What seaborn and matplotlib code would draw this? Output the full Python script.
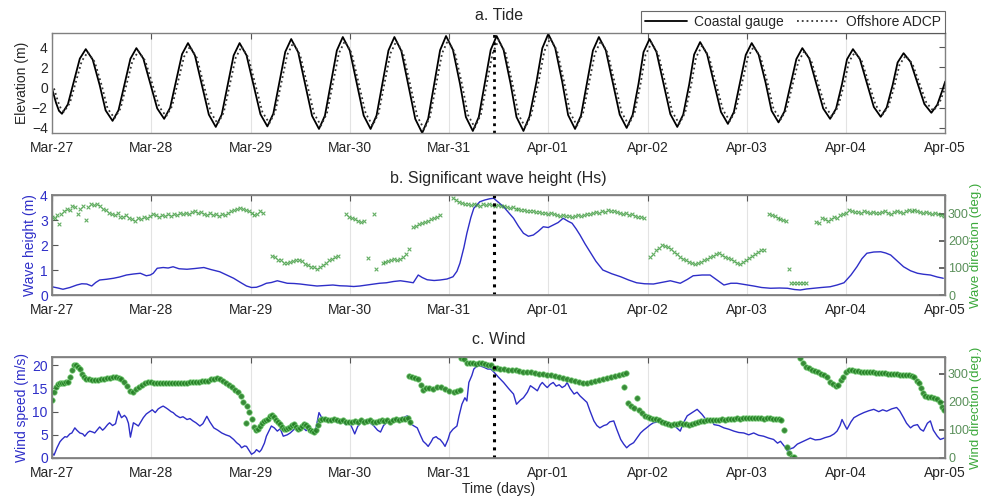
import numpy as np
import pandas as pd
import seaborn as sns
import matplotlib.pyplot as plt

# Tick labels (one per day) and the storm marker
day_labels = ['Mar-27', 'Mar-28', 'Mar-29', 'Mar-30', 'Mar-31',
              'Apr-01', 'Apr-02', 'Apr-03', 'Apr-04', 'Apr-05']
event_day = 4.45

# a. Tide (days since Mar-27 00:00, elevation m)
tide_days = [0.00, 0.04, 0.07,
             0.10, 0.16, 0.22, 0.28, 0.34, 0.41, 0.48, 0.54,
             0.61, 0.67, 0.73, 0.79, 0.85, 0.92, 0.99, 1.06,
             1.13, 1.19, 1.25, 1.31, 1.37, 1.44, 1.51, 1.58,
             1.65, 1.71, 1.77, 1.83, 1.89, 1.96, 2.03, 2.10,
             2.17, 2.23, 2.29, 2.35, 2.41, 2.48, 2.55, 2.62,
             2.69, 2.75, 2.81, 2.87, 2.93, 3.00, 3.07, 3.14,
             3.21, 3.27, 3.33, 3.39, 3.45, 3.52, 3.59, 3.66,
             3.73, 3.79, 3.85, 3.91, 3.97, 4.04, 4.11, 4.17,
             4.24, 4.30, 4.36, 4.42, 4.48, 4.55, 4.62, 4.68,
             4.75, 4.81, 4.88, 4.94, 5.00, 5.07, 5.14, 5.20,
             5.27, 5.33, 5.39, 5.45, 5.51, 5.58, 5.65, 5.72,
             5.79, 5.85, 5.91, 5.96, 6.02, 6.09, 6.16, 6.23,
             6.30, 6.36, 6.42, 6.47, 6.53, 6.60, 6.67, 6.74,
             6.81, 6.87, 6.93, 6.99, 7.05, 7.12, 7.19, 7.25,
             7.32, 7.38, 7.44, 7.50, 7.56, 7.63, 7.70, 7.77,
             7.84, 7.90, 7.96, 8.01, 8.07, 8.14, 8.21, 8.28,
             8.35, 8.41, 8.47, 8.52, 8.58, 8.65, 8.72, 8.79,
             8.86, 8.92, 8.97, 9.00]
gauge_elev = [-0.1, -1.5, -2.3,
              -2.6, -1.66, 0.6, 2.86, 3.8, 2.76, 0.25, -2.26,
              -3.3, -2.25, 0.3, 2.85, 3.9, 2.87, 0.4, -2.07,
              -3.1, -2.0, 0.65, 3.3, 4.4, 3.18, 0.25, -2.68,
              -3.9, -2.68, 0.25, 3.18, 4.4, 3.19, 0.28, -2.64,
              -3.85, -2.58, 0.48, 3.53, 4.8, 3.5, 0.35, -2.8,
              -4.1, -2.77, 0.45, 3.67, 5.0, 3.67, 0.45, -2.77,
              -4.1, -2.77, 0.45, 3.67, 5.0, 3.61, 0.25, -3.11,
              -4.5, -3.09, 0.3, 3.69, 5.1, 3.72, 0.4, -2.92,
              -4.3, -2.92, 0.4, 3.72, 5.1, 3.72, 0.4, -2.92,
              -4.3, -2.89, 0.5, 3.89, 5.3, 3.92, 0.6, -2.72,
              -4.1, -2.77, 0.45, 3.67, 5.0, 3.68, 0.5, -2.68,
              -4.0, -2.71, 0.4, 3.51, 4.8, 3.53, 0.45, -2.63,
              -3.9, -2.67, 0.3, 3.27, 4.5, 3.31, 0.45, -2.41,
              -3.6, -2.43, 0.4, 3.23, 4.4, 3.25, 0.48, -2.3,
              -3.45, -2.37, 0.23, 2.82, 3.9, 2.87, 0.4, -2.07,
              -3.1, -2.09, 0.35, 2.79, 3.8, 2.82, 0.45, -1.92,
              -2.9, -1.98, 0.25, 2.48, 3.4, 2.54, 0.45, -1.64,
              -2.5, -1.7, -0.3, 0.6]
adcp_lag = 0.02
adcp_elev = [-0.09, -1.38, -2.12,
             -2.39, -1.53, 0.55, 2.63, 3.5, 2.54, 0.23, -2.08,
             -3.04, -2.07, 0.28, 2.62, 3.59, 2.64, 0.37, -1.9,
             -2.85, -1.84, 0.6, 3.04, 4.05, 2.93, 0.23, -2.47,
             -3.59, -2.47, 0.23, 2.93, 4.05, 2.93, 0.26, -2.43,
             -3.54, -2.37, 0.44, 3.25, 4.42, 3.22, 0.32, -2.58,
             -3.77, -2.55, 0.41, 3.38, 4.6, 3.38, 0.41, -2.55,
             -3.77, -2.55, 0.41, 3.38, 4.6, 3.32, 0.23, -2.86,
             -4.14, -2.84, 0.28, 3.39, 4.69, 3.42, 0.37, -2.69,
             -3.96, -2.69, 0.37, 3.42, 4.69, 3.42, 0.37, -2.69,
             -3.96, -2.66, 0.46, 3.58, 4.88, 3.61, 0.55, -2.5,
             -3.77, -2.55, 0.41, 3.38, 4.6, 3.39, 0.46, -2.47,
             -3.68, -2.49, 0.37, 3.23, 4.42, 3.25, 0.41, -2.42,
             -3.59, -2.46, 0.28, 3.01, 4.14, 3.05, 0.41, -2.22,
             -3.31, -2.24, 0.37, 2.97, 4.05, 2.99, 0.44, -2.12,
             -3.17, -2.18, 0.21, 2.59, 3.59, 2.64, 0.37, -1.9,
             -2.85, -1.92, 0.32, 2.57, 3.5, 2.59, 0.41, -1.77,
             -2.67, -1.82, 0.23, 2.28, 3.13, 2.34, 0.41, -1.51,
             -2.3, -1.56, -0.28, 0.55]

# b. Significant wave height (m)
hs_days = [0.00, 0.06, 0.11, 0.18, 0.25, 0.30, 0.35, 0.40, 0.44, 0.48, 0.55, 0.62,
           0.68, 0.75, 0.82, 0.89, 0.95, 0.99, 1.02, 1.06, 1.12, 1.17, 1.22, 1.28,
           1.36, 1.44, 1.53, 1.60, 1.69, 1.76, 1.83, 1.90, 1.96, 2.01, 2.06, 2.11,
           2.16, 2.21, 2.27, 2.32, 2.37, 2.44, 2.50, 2.58, 2.67, 2.75, 2.83, 2.90,
           2.97, 3.04, 3.10, 3.17, 3.24, 3.30, 3.37, 3.44, 3.51, 3.58, 3.64, 3.69,
           3.73, 3.78, 3.85, 3.91, 3.98, 4.04, 4.08, 4.11, 4.15, 4.18, 4.22, 4.25,
           4.28, 4.31, 4.36, 4.41, 4.45, 4.50, 4.55, 4.60, 4.65, 4.70, 4.75, 4.80,
           4.85, 4.90, 4.95, 5.00, 5.05, 5.10, 5.15, 5.20, 5.24, 5.28, 5.32, 5.37,
           5.42, 5.48, 5.55, 5.64, 5.73, 5.81, 5.89, 5.97, 6.06, 6.14, 6.23, 6.33,
           6.40, 6.46, 6.55, 6.63, 6.70, 6.77, 6.84, 6.90, 6.98, 7.07, 7.15, 7.24,
           7.33, 7.41, 7.48, 7.54, 7.60, 7.67, 7.75, 7.84, 7.91, 7.98, 8.05, 8.11,
           8.16, 8.21, 8.28, 8.35, 8.40, 8.45, 8.52, 8.58, 8.65, 8.72, 8.78, 8.85,
           8.92, 8.98]
hs_m = [0.33, 0.28, 0.23, 0.30, 0.40, 0.45, 0.44, 0.36, 0.50, 0.60, 0.63, 0.67,
        0.72, 0.80, 0.84, 0.87, 0.77, 0.80, 0.87, 1.07, 1.10, 1.08, 1.13, 1.05,
        1.03, 1.06, 1.10, 1.02, 0.93, 0.80, 0.67, 0.50, 0.36, 0.30, 0.31, 0.38,
        0.47, 0.50, 0.57, 0.52, 0.47, 0.46, 0.44, 0.40, 0.36, 0.38, 0.40, 0.37,
        0.36, 0.34, 0.36, 0.40, 0.44, 0.47, 0.49, 0.54, 0.57, 0.53, 0.49, 0.80,
        0.70, 0.61, 0.58, 0.60, 0.64, 0.73, 0.95, 1.27, 1.90, 2.47, 3.10, 3.47,
        3.60, 3.73, 3.80, 3.85, 3.87, 3.70, 3.53, 3.30, 3.07, 2.75, 2.47, 2.35,
        2.40, 2.55, 2.73, 2.70, 2.80, 2.90, 3.07, 2.95, 2.87, 2.65, 2.40, 2.05,
        1.73, 1.35, 1.00, 0.85, 0.73, 0.60, 0.49, 0.45, 0.44, 0.50, 0.57, 0.47,
        0.62, 0.77, 0.80, 0.80, 0.60, 0.40, 0.47, 0.47, 0.42, 0.36, 0.30, 0.27,
        0.28, 0.27, 0.22, 0.20, 0.24, 0.27, 0.30, 0.33, 0.40, 0.49, 0.80, 1.13,
        1.45, 1.67, 1.72, 1.73, 1.68, 1.60, 1.35, 1.13, 0.97, 0.87, 0.83, 0.80,
        0.72, 0.67]

# b. Wave direction (deg.)
wave_dir_days = [0.00, 0.03, 0.05, 0.07, 0.09, 0.12, 0.15, 0.18, 0.20, 0.23, 0.26, 0.28,
                 0.31, 0.34, 0.36, 0.39, 0.42, 0.45, 0.48, 0.51, 0.54, 0.57, 0.60, 0.63,
                 0.66, 0.69, 0.72, 0.75, 0.78, 0.81, 0.84, 0.87, 0.90, 0.93, 0.96, 0.99,
                 1.02, 1.05, 1.08, 1.11, 1.14, 1.17, 1.20, 1.23, 1.26, 1.29, 1.32, 1.35,
                 1.38, 1.41, 1.44, 1.47, 1.50, 1.53, 1.56, 1.59, 1.62, 1.65, 1.68, 1.71,
                 1.74, 1.77, 1.80, 1.83, 1.86, 1.89, 1.92, 1.95, 1.98, 2.01, 2.04, 2.07,
                 2.10, 2.13,
                 2.22, 2.25, 2.28, 2.31, 2.34, 2.37, 2.40, 2.43, 2.46, 2.49, 2.52, 2.55,
                 2.58, 2.61, 2.64, 2.67, 2.70, 2.73, 2.76, 2.79, 2.82, 2.85, 2.88,
                 2.96, 2.99, 3.02, 3.05, 3.08, 3.11, 3.14, 3.18, 3.24, 3.26,
                 3.33, 3.36, 3.39, 3.42, 3.45, 3.48, 3.51, 3.54, 3.57, 3.60,
                 3.64, 3.67, 3.70, 3.73, 3.76, 3.79, 3.82, 3.85, 3.88, 3.91,
                 4.04, 4.07, 4.10, 4.13, 4.16, 4.19, 4.22, 4.25, 4.28, 4.31, 4.34, 4.37,
                 4.40, 4.43, 4.46, 4.49, 4.52, 4.55, 4.58, 4.61, 4.64, 4.67, 4.70, 4.73,
                 4.76, 4.79, 4.82, 4.85, 4.88, 4.91, 4.94, 4.97, 5.00, 5.03, 5.06, 5.09,
                 5.12, 5.15, 5.18, 5.21, 5.24, 5.27, 5.30, 5.33, 5.36, 5.39, 5.42, 5.45,
                 5.48, 5.51, 5.54, 5.57, 5.60, 5.63, 5.66, 5.69, 5.72, 5.75, 5.78, 5.81,
                 5.84, 5.87, 5.90, 5.93, 5.96,
                 6.03, 6.06, 6.09, 6.12, 6.15, 6.18, 6.21, 6.24, 6.27, 6.30, 6.33, 6.36,
                 6.39, 6.42, 6.45, 6.48, 6.51, 6.54, 6.57, 6.60, 6.63, 6.66, 6.69, 6.72,
                 6.75, 6.78, 6.81, 6.84, 6.87, 6.90, 6.93, 6.96, 6.99, 7.02, 7.05, 7.08,
                 7.11, 7.14, 7.17,
                 7.22, 7.25, 7.28, 7.31, 7.34, 7.37, 7.40, 7.43,
                 7.45, 7.48, 7.51, 7.54, 7.57, 7.60,
                 7.70, 7.73, 7.76, 7.79, 7.82, 7.85, 7.88, 7.91, 7.94, 7.97, 8.00, 8.03,
                 8.06, 8.09, 8.12, 8.15, 8.18, 8.21, 8.24, 8.27, 8.30, 8.33, 8.36, 8.39,
                 8.42, 8.45, 8.48, 8.51, 8.54, 8.57, 8.60, 8.63, 8.66, 8.69, 8.72, 8.75,
                 8.78, 8.81, 8.84, 8.87, 8.90, 8.93, 8.96, 8.99]
wave_dir_deg = [290, 285, 295, 262, 300, 310, 320, 315, 330, 325, 300, 318,
                330, 278, 325, 335, 332, 338, 330, 320, 315, 305, 300, 296,
                302, 290, 288, 296, 285, 280, 275, 285, 282, 290, 284, 292,
                300, 295, 290, 296, 292, 298, 294, 300, 296, 302, 298, 305,
                300, 306, 310, 304, 308, 300, 297, 302, 296, 298, 292, 300,
                296, 304, 310, 315, 318, 322, 320, 316, 312, 305, 295, 300,
                310, 305,
                145, 140, 130, 128, 120, 118, 122, 125, 130, 128, 125, 115,
                110, 105, 102, 98, 105, 112, 120, 128, 135, 140, 145,
                300, 290, 285, 280, 275, 270, 272, 137, 300, 96,
                118, 122, 125, 128, 132, 130, 135, 140, 150, 172,
                250, 256, 262, 266, 270, 275, 280, 284, 290, 296,
                360, 352, 345, 340, 338, 335, 332, 335, 333, 330, 335, 332,
                336, 334, 330, 332, 328, 330, 326, 322, 325, 320, 318, 315,
                316, 312, 310, 312, 308, 306, 305, 302, 300, 302, 298, 296,
                294, 296, 292, 294, 290, 292, 295, 293, 297, 300, 298, 303,
                306, 305, 310, 308, 313, 310, 312, 306, 305, 300, 302, 296,
                298, 292, 288, 290, 286,
                140, 150, 165, 175, 185, 182, 178, 170, 160, 150, 142, 135,
                128, 122, 118, 115, 120, 122, 128, 135, 140, 145, 150, 155,
                148, 142, 138, 135, 125, 118, 115, 122, 130, 138, 145, 152,
                158, 165, 168,
                300, 295, 292, 285, 282, 278, 275, 96,
                45, 45, 44, 46, 45, 45,
                270, 265, 285, 280, 272, 282, 290, 286, 295, 298, 305, 315,
                310, 306, 308, 305, 310, 306, 304, 308, 305, 302, 306, 310,
                304, 300, 306, 312, 308, 305, 310, 315, 312, 316, 310, 306,
                304, 308, 304, 300, 302, 298, 296, 292]

# c. Wind speed (m/s)
wind_days = [0.00, 0.02, 0.05, 0.08, 0.10, 0.13, 0.15, 0.18, 0.20, 0.23, 0.25, 0.28,
             0.31, 0.33, 0.36, 0.38, 0.41, 0.43, 0.46, 0.48, 0.51, 0.53, 0.56, 0.58,
             0.61, 0.64, 0.67, 0.70, 0.73, 0.75, 0.77, 0.79, 0.82, 0.85, 0.87, 0.90,
             0.92, 0.95, 0.99, 1.01, 1.04, 1.07, 1.10, 1.12, 1.15, 1.17, 1.20, 1.22,
             1.25, 1.29, 1.32, 1.36, 1.39, 1.42, 1.45, 1.49, 1.52, 1.56, 1.59, 1.63,
             1.67, 1.71, 1.75, 1.79, 1.83, 1.86, 1.89, 1.91, 1.94, 1.96, 1.99, 2.01,
             2.04, 2.06, 2.09, 2.11, 2.14, 2.16, 2.19, 2.21, 2.24, 2.27, 2.30, 2.33,
             2.37, 2.40, 2.44, 2.48, 2.52, 2.56, 2.60, 2.63, 2.66, 2.69, 2.72, 2.76,
             2.80, 2.84, 2.88, 2.92, 2.96, 3.00, 3.03, 3.05, 3.08, 3.12, 3.16, 3.20,
             3.24, 3.28, 3.31, 3.34, 3.37, 3.41, 3.44, 3.47, 3.51, 3.55, 3.58, 3.61,
             3.64, 3.68, 3.71, 3.74, 3.77, 3.79, 3.82, 3.84, 3.87, 3.89, 3.91, 3.94,
             3.96, 3.99, 4.01, 4.04, 4.08, 4.10, 4.13, 4.16, 4.18, 4.20, 4.23, 4.25,
             4.28, 4.31, 4.35, 4.39, 4.42, 4.45, 4.50, 4.55, 4.60, 4.65, 4.68, 4.72,
             4.75, 4.79, 4.82, 4.86, 4.89, 4.92, 4.94, 4.97, 4.99, 5.02, 5.05, 5.08,
             5.11, 5.14, 5.17, 5.19, 5.22, 5.26, 5.29, 5.32, 5.36, 5.39, 5.42, 5.46,
             5.49, 5.52, 5.56, 5.59, 5.62, 5.66, 5.69, 5.73, 5.76, 5.79, 5.82, 5.86,
             5.89, 5.93, 5.96, 5.99, 6.03, 6.06, 6.11, 6.16, 6.21, 6.26, 6.30, 6.33,
             6.36, 6.40, 6.45, 6.50, 6.55, 6.60, 6.64, 6.67, 6.72, 6.77, 6.82, 6.87,
             6.92, 6.97, 7.02, 7.07, 7.12, 7.17, 7.22, 7.27, 7.31, 7.34, 7.38, 7.41,
             7.44, 7.47, 7.51, 7.54, 7.59, 7.64, 7.69, 7.74, 7.79, 7.84, 7.88, 7.91,
             7.94, 7.96, 7.99, 8.01, 8.05, 8.08, 8.13, 8.18, 8.23, 8.28, 8.33, 8.37,
             8.41, 8.46, 8.51, 8.54, 8.58, 8.61, 8.65, 8.68, 8.72, 8.75, 8.78, 8.82,
             8.85, 8.88, 8.92, 8.95, 8.99]
wind_speed = [1.1, 0.6, 2.2, 3.5, 4.0, 4.6, 4.5, 5.2, 5.4, 6.5, 6.0, 5.4,
              5.2, 4.7, 5.5, 5.8, 5.6, 5.4, 6.2, 6.7, 6.0, 6.4, 7.2, 7.6,
              7.0, 7.4, 10.1, 8.7, 9.2, 8.7, 7.5, 4.5, 7.6, 7.2, 6.9, 8.0,
              8.7, 9.5, 10.1, 10.4, 9.8, 10.6, 11.0, 11.2, 10.8, 10.5, 10.0, 9.8,
              9.2, 8.7, 8.9, 8.3, 8.5, 8.0, 7.6, 6.9, 7.4, 9.0, 7.8, 6.5,
              6.0, 5.4, 5.0, 4.7, 4.0, 3.3, 2.8, 2.2, 2.6, 2.5, 1.5, 0.8,
              1.2, 1.8, 1.3, 1.8, 3.2, 4.7, 6.0, 6.9, 6.5, 5.8, 6.3, 4.7,
              5.0, 5.4, 6.2, 6.0, 6.8, 5.9, 6.6, 5.4, 6.5, 9.8, 8.6, 8.2,
              7.8, 8.4, 7.6, 8.0, 7.2, 7.6, 6.2, 5.2, 6.8, 7.8, 8.2, 7.6,
              7.0, 6.0, 5.6, 7.0, 7.6, 8.0, 8.4, 8.3, 8.6, 8.8, 9.1, 7.5,
              7.0, 6.5, 5.0, 3.6, 3.0, 2.5, 3.5, 4.3, 4.6, 4.2, 4.0, 3.2,
              2.5, 4.0, 5.4, 6.2, 6.9, 9.0, 11.6, 13.0, 12.3, 16.3, 17.8, 19.2,
              19.8, 19.9, 19.6, 19.2, 19.2, 18.6, 17.4, 16.3, 15.0, 13.8, 11.6, 12.5,
              13.0, 14.2, 15.6, 15.0, 14.5, 15.8, 16.3, 15.6, 15.2, 15.9, 16.3, 15.5,
              15.8, 15.2, 15.6, 16.3, 15.0, 13.8, 14.2, 13.4, 12.6, 12.0, 10.2, 8.0,
              7.0, 6.5, 7.0, 7.2, 7.8, 8.0, 6.2, 4.0, 3.0, 2.2, 2.8, 3.3,
              4.2, 5.4, 6.0, 6.5, 7.2, 7.6, 7.8, 8.0, 7.5, 7.2, 6.4, 5.8,
              7.5, 9.1, 9.8, 10.5, 9.4, 8.0, 8.5, 7.2, 7.0, 6.5, 6.2, 5.8,
              5.5, 5.4, 5.0, 5.4, 4.9, 4.7, 4.3, 4.0, 3.2, 3.6, 2.5, 1.5,
              2.0, 2.2, 3.0, 3.3, 3.8, 4.3, 3.9, 4.0, 4.4, 4.7, 5.2, 5.8,
              7.0, 8.3, 7.0, 6.2, 7.8, 8.7, 9.3, 9.8, 10.2, 10.5, 10.0, 10.4,
              10.1, 10.6, 10.9, 10.2, 8.7, 7.5, 6.5, 7.0, 7.2, 6.2, 5.8, 7.5,
              8.0, 6.0, 4.7, 4.0, 4.3]

# c. Wind direction (deg.)
wind_dir_days = [0.00, 0.02, 0.04, 0.06, 0.08, 0.10, 0.12, 0.14, 0.16, 0.18, 0.20, 0.22,
                 0.24, 0.26, 0.28, 0.30, 0.32, 0.34, 0.37, 0.40, 0.43, 0.46, 0.49, 0.52,
                 0.55, 0.58, 0.61, 0.64, 0.67, 0.70, 0.73, 0.76, 0.79, 0.82, 0.85, 0.88,
                 0.91, 0.94, 0.97, 1.00, 1.03, 1.06, 1.09, 1.12, 1.15, 1.18, 1.21, 1.24,
                 1.27, 1.30, 1.33, 1.36, 1.39, 1.42, 1.45, 1.48, 1.51, 1.54, 1.57, 1.60,
                 1.63, 1.66, 1.69, 1.72, 1.75, 1.78, 1.81, 1.84, 1.87, 1.90, 1.92, 1.95,
                 1.96, 1.98, 2.01, 2.04, 2.06,
                 2.08, 2.10, 2.12, 2.14, 2.16, 2.18, 2.20, 2.22, 2.24, 2.26, 2.28, 2.30,
                 2.32, 2.34, 2.36, 2.38, 2.40, 2.42, 2.44, 2.46, 2.48, 2.50, 2.52, 2.54,
                 2.56, 2.58, 2.60, 2.62, 2.64, 2.66, 2.68, 2.70, 2.72, 2.75, 2.78, 2.81,
                 2.84, 2.87, 2.90, 2.93, 2.96, 2.99, 3.02, 3.05, 3.08, 3.11, 3.14, 3.17,
                 3.20, 3.23, 3.26, 3.29, 3.32, 3.35, 3.38, 3.41, 3.44, 3.47, 3.50, 3.53,
                 3.56, 3.59, 3.61,
                 3.60, 3.63, 3.66, 3.69, 3.72, 3.74, 3.77, 3.80, 3.84, 3.88, 3.92, 3.96,
                 4.00, 4.05, 4.08, 4.11,
                 4.12, 4.15, 4.18, 4.21, 4.24, 4.27, 4.30, 4.33, 4.36, 4.39, 4.42, 4.45,
                 4.48, 4.51, 4.55, 4.59, 4.63, 4.67, 4.71, 4.75, 4.79, 4.83, 4.87, 4.91,
                 4.95, 4.99, 5.03, 5.07, 5.11, 5.15, 5.19, 5.23, 5.27, 5.31, 5.35, 5.39,
                 5.43, 5.47, 5.51, 5.55, 5.59, 5.63, 5.67, 5.71, 5.75, 5.78,
                 5.76, 5.80, 5.83, 5.86, 5.89, 5.91, 5.94, 5.97, 6.00, 6.03, 6.06, 6.09,
                 6.12, 6.15, 6.18, 6.21, 6.24, 6.27, 6.30, 6.33, 6.36, 6.39, 6.42, 6.45,
                 6.48, 6.51, 6.54, 6.57, 6.60, 6.63, 6.66, 6.69, 6.72, 6.75, 6.78, 6.81,
                 6.84, 6.87, 6.90, 6.93, 6.96, 6.99, 7.02, 7.05, 7.08, 7.11, 7.14, 7.17,
                 7.20, 7.23, 7.26, 7.29, 7.32, 7.35, 7.38, 7.41, 7.43, 7.46, 7.48,
                 7.54, 7.57, 7.60, 7.63, 7.66, 7.69, 7.72, 7.75, 7.78, 7.81, 7.84, 7.87,
                 7.90, 7.92, 7.95, 7.97, 8.00, 8.03, 8.06, 8.09, 8.12, 8.15, 8.18, 8.21,
                 8.24, 8.27, 8.30, 8.33, 8.36, 8.39, 8.42, 8.45, 8.48, 8.51, 8.54, 8.57,
                 8.60, 8.63, 8.66, 8.69, 8.72, 8.74, 8.76, 8.78, 8.80, 8.83, 8.86, 8.89,
                 8.92, 8.95, 8.97, 8.99]
wind_dir_deg = [206, 235, 254, 262, 266, 268, 266, 270, 272, 290, 315, 330,
                331, 325, 318, 300, 288, 282, 280, 278, 277, 278, 280, 282,
                284, 286, 288, 289, 286, 280, 271, 258, 240, 236, 245, 252,
                260, 268, 272, 270, 268, 266, 266, 267, 266, 266, 267, 266,
                268, 267, 268, 268, 270, 270, 272, 272, 273, 275, 276, 280,
                282, 284, 280, 275, 268, 260, 252, 244, 236, 220, 200, 123,
                185, 164, 140, 110, 99,
                105, 115, 125, 132, 135, 140, 150, 152, 145, 135, 129, 120,
                112, 105, 102, 106, 112, 118, 120, 112, 105, 108, 115, 120,
                118, 112, 100, 96, 94, 98, 118, 135, 140, 138, 136, 134,
                138, 135, 132, 134, 130, 128, 130, 132, 128, 134, 130, 132,
                136, 130, 128, 132, 135, 133, 136, 130, 134, 138, 136, 140,
                138, 142, 130,
                293, 290, 286, 283, 260, 243, 250, 248, 247, 252, 253, 245,
                240, 236, 240, 243,
                355, 352, 340, 338, 337, 336, 338, 337, 335, 333, 330, 322,
                320, 318, 316, 314, 313, 312, 310, 308, 307, 306, 303, 300,
                298, 296, 295, 294, 290, 286, 282, 278, 274, 270, 268, 266,
                270, 274, 278, 281, 285, 289, 292, 296, 300, 302,
                254, 195, 186, 177, 213, 170, 160, 149, 145, 141, 140, 138,
                134, 128, 124, 120, 118, 120, 122, 124, 122, 120, 118, 122,
                126, 130, 132, 133, 135, 134, 135, 137, 136, 138, 137, 139,
                140, 138, 141, 140, 142, 141, 143, 141, 142, 143, 141, 140,
                142, 141, 140, 139, 138, 136, 99, 39, 16, 4, 2,
                355, 340, 325, 319, 315, 310, 306, 301, 296, 290, 270, 262,
                255, 260, 278, 290, 305, 313, 312, 310, 309, 308, 307, 307,
                306, 305, 304, 303, 302, 302, 301, 300, 299, 298, 297, 296,
                296, 295, 294, 288, 275, 268, 250, 230, 222, 218, 216, 214,
                210, 200, 180, 170]

tide = pd.DataFrame({'day': tide_days, 'gauge': gauge_elev, 'adcp': adcp_elev})
tide['adcp_day'] = tide['day'] + adcp_lag
hs = pd.DataFrame({'day': hs_days, 'hs': hs_m})
wave_dir = pd.DataFrame({'day': wave_dir_days, 'deg': wave_dir_deg})
wind = pd.DataFrame({'day': wind_days, 'speed': wind_speed})
wind_dir = pd.DataFrame({'day': wind_dir_days, 'deg': wind_dir_deg})

sns.set_theme(style="white")
plt.rcParams['font.family'] = ['Liberation Sans', 'DejaVu Sans']
plt.rcParams['xtick.direction'] = 'in'
plt.rcParams['ytick.direction'] = 'in'

blue = '#2e2ec8'
green = '#3d9a3d'
dir_label = '#3aa83a'
dir_ticks = '#5a8f5a'
label_size = 10
frame = '#808080'

fig = plt.figure(figsize=(9.87, 4.99), dpi=100)
ax_a = fig.add_axes([0.0527, 0.7335, 0.905, 0.2004])
ax_b = fig.add_axes([0.0527, 0.4088, 0.905, 0.2004])
ax_c = fig.add_axes([0.0527, 0.0822, 0.905, 0.2024])


def style_axis(ax):
    ax.set_xlim(0, len(day_labels) - 1)
    ax.set_xticks(range(len(day_labels)))
    ax.set_xticklabels(day_labels)
    ax.tick_params(axis='both', labelsize=label_size, length=4, width=0.8,
                   color='#555555', top=True)
    ax.tick_params(axis='x', pad=6)
    ax.tick_params(axis='y', pad=3)
    ax.grid(axis='x', color='#e3e3e3', lw=0.8)
    for s in ax.spines.values():
        s.set_color(frame)
        s.set_linewidth(1.0)
    ax.set_xlabel('')


def style_twin(ax, top, ticks, label):
    ax.set_ylim(0, top)
    ax.set_yticks(ticks)
    ax.tick_params(axis='y', labelsize=label_size - 1, labelcolor=dir_ticks,
                   length=4, color='#555555', pad=2)
    ax.set_ylabel(label, fontsize=label_size - 0.5, color=dir_label, labelpad=1)
    ax.set_xlabel('')
    for s in ax.spines.values():
        s.set_color(frame)


# a. Tide
sns.lineplot(data=tide, x='day', y='gauge', ax=ax_a, color='black', lw=1.3,
             estimator=None, sort=False, label='Coastal gauge', solid_joinstyle='round')
sns.lineplot(data=tide, x='adcp_day', y='adcp', ax=ax_a, color='#333333', lw=1.3,
             linestyle=':', estimator=None, sort=False, label='Offshore ADCP')
ax_a.axvline(event_day, color='black', lw=2.0, ls=':')
style_axis(ax_a)
ax_a.set_ylim(-4.5, 5.4)
ax_a.set_yticks([-4, -2, 0, 2, 4])
ax_a.tick_params(axis='y', right=True)
ax_a.set_ylabel('Elevation (m)', fontsize=label_size, labelpad=2)
ax_a.set_title('a. Tide', fontsize=11.5, pad=9)
ax_a.legend(loc='lower right', bbox_to_anchor=(1.0, 1.0), ncol=2, frameon=True,
            fancybox=False, edgecolor='#444444', fontsize=label_size,
            handlelength=3.0, borderaxespad=0, columnspacing=1.0,
            borderpad=0.3, handletextpad=0.5).get_frame().set_linewidth(0.8)

# b. Significant wave height
sns.lineplot(data=hs, x='day', y='hs', ax=ax_b, color=blue, lw=1.0,
             estimator=None, sort=False)
style_axis(ax_b)
ax_b.set_ylim(0, 4)
ax_b.set_yticks([0, 1, 2, 3, 4])
ax_b.tick_params(axis='y', labelcolor=blue)
ax_b.set_ylabel('Wave height (m)', fontsize=label_size, color=blue, labelpad=2)
ax_b.set_title('b. Significant wave height (Hs)', fontsize=11.5, pad=9)
ax_b2 = ax_b.twinx()
sns.scatterplot(data=wave_dir, x='day', y='deg', ax=ax_b2, color=green, marker='x',
                s=7, linewidth=0.8, alpha=0.8)
ax_b2.axvline(event_day, color='black', lw=2.2, ls=':')
style_twin(ax_b2, 370, [0, 100, 200, 300], 'Wave direction (deg.)')

# c. Wind
sns.lineplot(data=wind, x='day', y='speed', ax=ax_c, color=blue, lw=1.0,
             estimator=None, sort=False)
style_axis(ax_c)
ax_c.set_ylim(0, 21.8)
ax_c.set_yticks([0, 5, 10, 15, 20])
ax_c.tick_params(axis='y', labelcolor=blue)
ax_c.set_ylabel('Wind speed (m/s)', fontsize=label_size, color=blue, labelpad=2)
ax_c.set_xlabel('Time (days)', fontsize=label_size, labelpad=1)
ax_c.set_title('c. Wind', fontsize=11.5, pad=9)
ax_c2 = ax_c.twinx()
sns.scatterplot(data=wind_dir, x='day', y='deg', ax=ax_c2, color='#237f23',
                edgecolor='#7fd67f', linewidth=0.5, s=16, alpha=0.9)
ax_c2.axvline(event_day, color='black', lw=2.2, ls=':')
style_twin(ax_c2, 360, [0, 100, 200, 300], 'Wind direction (deg.)')

fig.savefig('out.png', dpi=100)
